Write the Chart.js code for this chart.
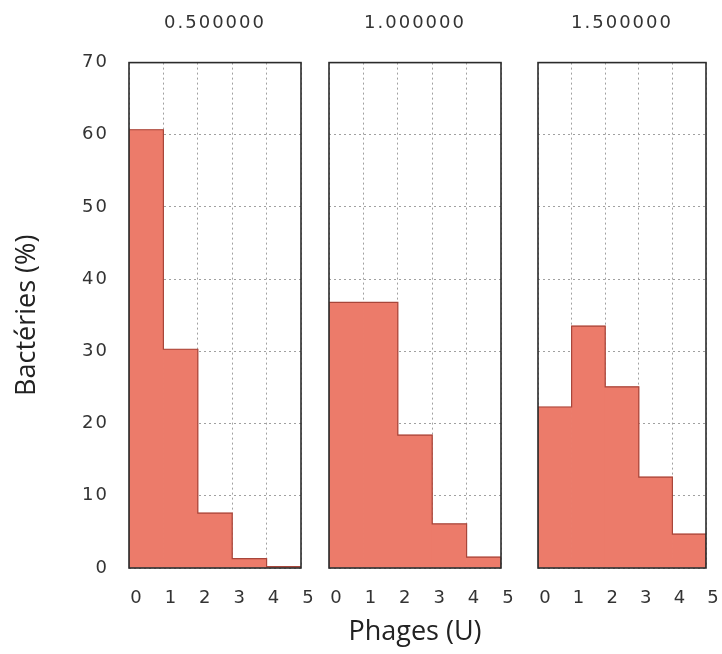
<!DOCTYPE html>
<html>
<head>
<meta charset="utf-8">
<script src="https://cdn.jsdelivr.net/npm/chart.js@4"></script>
<style>
  body { margin: 0; background: #fff; overflow: hidden; }
  #wrap { position: relative; width: 722px; height: 654px; overflow: hidden; }
  #wrap canvas { position: absolute; top: 0; }
</style>
</head>
<body>
<div id="wrap">
  <canvas id="c1" style="left:0px"></canvas>
  <canvas id="c2" style="left:309px"></canvas>
  <canvas id="c3" style="left:518px"></canvas>
</div>
<script>
// phages per bacterium, one bin per count
const phageCounts = [0, 1, 2, 3, 4];
const xTicks = [0, 1, 2, 3, 4, 5];
const yTicks = [0, 10, 20, 30, 40, 50, 60, 70];

// mean phages per bacterium for each panel
const panelTitles = ['0.500000', '1.000000', '1.500000'];

// % of bacteria per count
const pct05 = [60.7, 30.3, 7.6, 1.3, 0.2];
const pct10 = [36.8, 36.8, 18.4, 6.1, 1.5];
const pct15 = [22.3, 33.5, 25.1, 12.6, 4.7];

const BAR_FILL = '#ec7b6a';
const BAR_EDGE = '#a8463a';
const GRID = '#a0a0a0';
const TICK_FONT = { family: 'DejaVu Sans', size: 18 };
const AXIS_FONT = { family: 'Open Sans', size: 27 };

// wide spaced digits for ticks and panel titles, normal spacing for axis titles
const spacingPlugin = {
  id: 'spacing',
  afterLayout(chart) {
    Object.values(chart.scales).forEach(scale => {
      if (scale._plainTitle) return;
      const drawTitle = scale.drawTitle;
      scale.drawTitle = function() {
        this.ctx.save();
        this.ctx.letterSpacing = '0px';
        drawTitle.call(this);
        this.ctx.restore();
      };
      scale._plainTitle = true;
    });
  },
  beforeDraw(chart) {
    chart.ctx.letterSpacing = '2px';
  }
};

// dark frame around each plot area
const framePlugin = {
  id: 'frame',
  afterDatasetsDraw(chart) {
    const a = chart.chartArea;
    const ctx = chart.ctx;
    ctx.save();
    ctx.strokeStyle = '#2b2b2b';
    ctx.lineWidth = 1.6;
    ctx.strokeRect(a.left, a.top, a.right - a.left, a.bottom - a.top);
    ctx.restore();
  }
};

// outline of the histogram: up from 0, along each bin top, back down at the end
function stairs(values) {
  const pts = [{ x: phageCounts[0], y: 0 }];
  phageCounts.forEach((k, i) => pts.push({ x: k, y: values[i] }));
  const last = phageCounts[phageCounts.length - 1] + 1;
  pts.push({ x: last, y: values[values.length - 1] });
  pts.push({ x: last, y: 0 });
  return pts;
}

function makePanel(id, width, title, values, opts) {
  const canvas = document.getElementById(id);
  canvas.width = width;
  canvas.height = 654;
  return new Chart(canvas, {
    type: 'bar',
    data: {
      datasets: [{
        data: phageCounts.map((k, i) => ({ x: k + 0.5, y: values[i] })),
        backgroundColor: BAR_FILL,
        borderWidth: 0,
        barPercentage: 1,
        categoryPercentage: 1,
        order: 1
      }, {
        type: 'line',
        data: stairs(values),
        stepped: 'before',
        borderColor: BAR_EDGE,
        borderWidth: 1.2,
        pointRadius: 0,
        fill: false,
        order: 0
      }]
    },
    options: {
      responsive: false,
      animation: false,
      layout: { padding: { left: opts.padLeft, right: 20, top: 0, bottom: 0 } },
      plugins: {
        legend: { display: false },
        tooltip: { enabled: false },
        title: {
          display: true,
          text: title,
          fullSize: false,
          color: '#333',
          font: { family: 'DejaVu Sans', size: 18, weight: 'normal' },
          padding: { top: 13, bottom: 28 }
        }
      },
      scales: {
        x: {
          type: 'linear',
          min: 0,
          max: 5,
          offset: false,
          afterBuildTicks(scale) { scale.ticks = xTicks.map(v => ({ value: v })); },
          afterFit(scale) {
            scale.height = 86;
            scale.paddingLeft = 0;
            scale.paddingRight = 0;
          },
          grid: { color: GRID, drawTicks: false, offset: false },
          border: { display: false, dash: [2, 3] },
          ticks: { color: '#333', font: TICK_FONT, padding: 20, labelOffset: 8, maxRotation: 0 },
          title: {
            display: opts.xTitle,
            text: 'Phages (U)',
            color: '#222',
            font: AXIS_FONT,
            padding: { top: 0, bottom: 5 }
          }
        },
        y: {
          min: 0,
          max: 70,
          afterBuildTicks(scale) { scale.ticks = yTicks.map(v => ({ value: v })); },
          afterFit(scale) {
            scale.width = opts.yWidth;
            scale.paddingTop = 0;
            scale.paddingBottom = 0;
          },
          grid: { color: GRID, drawTicks: false },
          border: { display: false, dash: [2, 3] },
          ticks: { display: opts.yLabels, color: '#333', font: TICK_FONT, padding: 20 },
          title: {
            display: opts.yLabels,
            text: 'Bactéries (%)',
            color: '#222',
            font: AXIS_FONT,
            padding: { top: 11, bottom: 0 }
          }
        }
      }
    },
    plugins: [spacingPlugin, framePlugin]
  });
}

// dotted grid lines
Chart.defaults.scale.grid.borderDash = [2, 3];

makePanel('c1', 321, panelTitles[0], pct05, { padLeft: 0, yWidth: 129, yLabels: true, xTitle: false });
makePanel('c2', 212, panelTitles[1], pct10, { padLeft: 20, yWidth: 0, yLabels: false, xTitle: true });
makePanel('c3', 208, panelTitles[2], pct15, { padLeft: 20, yWidth: 0, yLabels: false, xTitle: false });
</script>
</body>
</html>
